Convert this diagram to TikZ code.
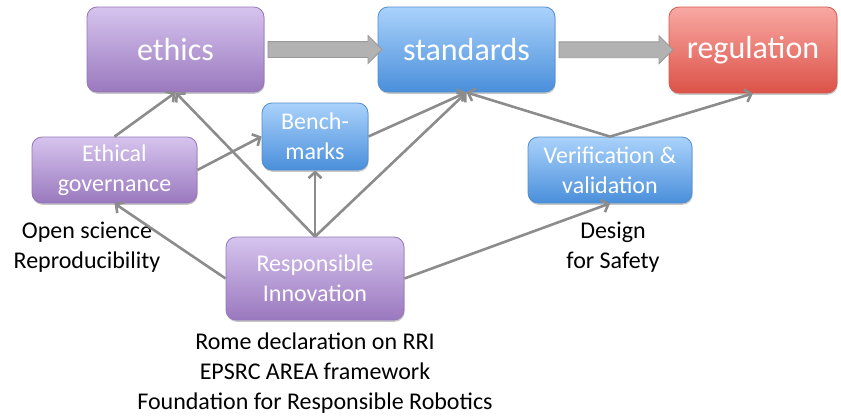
\documentclass[tikz,border=0pt]{standalone}
\usepackage{fontspec}
\setmainfont{Carlito}
\usetikzlibrary{arrows.meta,shapes.arrows,shadows}
\definecolor{ptop}{HTML}{D6C4EE}
\definecolor{pbot}{HTML}{9A78BE}
\definecolor{pdraw}{HTML}{9478B8}
\definecolor{btop}{HTML}{AAD2FB}
\definecolor{bbot}{HTML}{4A8FDB}
\definecolor{bdraw}{HTML}{4F8FD2}
\definecolor{rtop}{HTML}{F8A8A2}
\definecolor{rbot}{HTML}{DC5248}
\definecolor{rdraw}{HTML}{D45A50}
\definecolor{linkgray}{HTML}{8C8C8C}
\definecolor{fatfill}{HTML}{B2B2B2}
\definecolor{fatdraw}{HTML}{9A9A9A}
\tikzset{
  box/.style={rounded corners=10pt, line width=0.8pt, text=white, align=center,
    inner sep=0pt, drop shadow={shadow xshift=0.6pt, shadow yshift=-1.8pt, opacity=0.22, fill=black}},
  purplebox/.style={box, draw=pdraw, top color=ptop, bottom color=pbot},
  bluebox/.style={box, draw=bdraw, top color=btop, bottom color=bbot},
  redbox/.style={box, draw=rdraw, top color=rtop, bottom color=rbot},
  bigtext/.style={font=\fontsize{32}{38}\selectfont},
  smalltext/.style={font=\fontsize{24}{30}\selectfont},
  link/.style={draw=linkgray, line width=2.6pt, -{Straight Barb[length=6pt,width=13pt]}},
  fatarrow/.style={single arrow, fill=fatfill, draw=fatdraw, line width=0.8pt,
    inner sep=0pt, inner ysep=7.5pt, single arrow head extend=6pt,
    single arrow head indent=0pt, anchor=center},
  note/.style={align=center, text=black, font=\fontsize{24}{30}\selectfont}
}
\begin{document}
\begin{tikzpicture}[x=1pt,y=-1pt]
\useasboundingbox (0,0) rectangle (841,416);
% main boxes
\node[purplebox, bigtext, minimum width=177pt, minimum height=85pt] (ethics) at (175.5,49.5) {ethics};
\node[bluebox, bigtext, minimum width=177pt, minimum height=85pt] (standards) at (466.5,49.5) {standards};
\node[redbox, bigtext, minimum width=168pt, minimum height=86pt] (regulation) at (753,50) {regulation};
% secondary boxes
\node[purplebox, smalltext, minimum width=165pt, minimum height=66pt] (gov) at (114.5,170) {Ethical\\governance};
\node[bluebox, smalltext, minimum width=106pt, minimum height=67pt] (bench) at (315,136.5) {Bench-\\marks};
\node[bluebox, smalltext, minimum width=164pt, minimum height=66pt] (vv) at (610,170) {Verification \&\\validation};
\node[purplebox, smalltext, minimum width=178pt, minimum height=83pt] (ri) at (315,278.5) {Responsible\\Innovation};
% notes
\node[note] (open) at (87,247) {Open science\\Reproducibility};
\node[note] (design) at (613,247) {Design\\for Safety};
\node[note] (refs) at (315,373) {Rome declaration on RRI\\EPSRC AREA framework\\Foundation for Responsible Robotics};
% fat arrows
\path (ethics.east) -- (standards.west) node[midway, fatarrow, minimum height=114pt, minimum width=27pt] (fa1) {};
\path (standards.east) -- (regulation.west) node[midway, fatarrow, minimum height=114pt, minimum width=27pt] (fa2) {};
% links
\draw[link] (gov.north) -- (ethics.south);
\draw[link] (ri.north) -- (ethics.south);
\draw[link] (ri.north) -- (bench.south);
\draw[link] (ri.north) -- (standards.south);
\draw[link] (gov.east) -- (bench.west);
\draw[link] (bench.east) -- (standards.south);
\draw[link] (ri.west) -- (gov.south);
\draw[link] (ri.east) -- (vv.south);
\draw[link] (vv.north) -- (standards.south);
\draw[link] (vv.north) -- (regulation.south);
\end{tikzpicture}
\end{document}
